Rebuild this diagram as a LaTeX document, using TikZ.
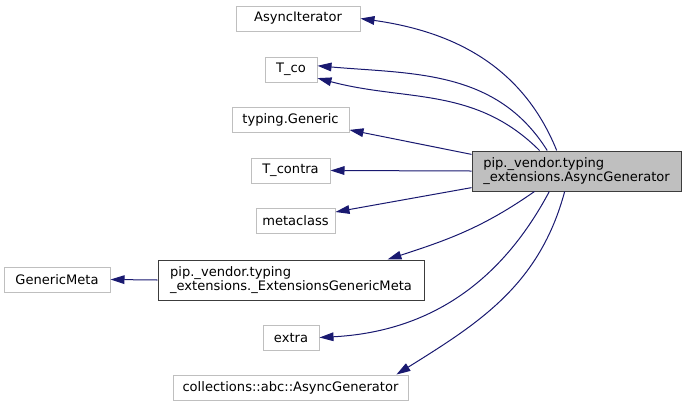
\documentclass[tikz,border=0pt]{standalone}
\usepackage{fontspec}
\setmainfont{DejaVu Sans}
\usetikzlibrary{arrows.meta}
\definecolor{midnight}{RGB}{25,25,112}
\definecolor{boxgrey}{RGB}{191,191,191}
\definecolor{boxdark}{RGB}{60,60,60}

\begin{document}
\begin{tikzpicture}[x=0.75pt,y=0.75pt,
  cls/.style={draw=boxgrey,line width=0.75pt,inner sep=0pt,minimum height=18.75pt,font=\fontsize{9.8}{10}\selectfont},
  twoline/.style={cls,align=left,minimum height=30pt},
  inh/.style={-{Triangle[length=10.5pt,width=6.5pt]},midnight,line width=0.75pt}]

\useasboundingbox (0,0) rectangle (685,-408);

\node[cls,minimum width=93pt] (asynciter) at (298,-18.5) {AsyncIterator};
\node[cls,minimum width=39pt] (tco) at (291,-69.5) {T\_co};
\node[cls,minimum width=87.75pt] (generic) at (290.5,-119.5) {typing.Generic};
\node[cls,minimum width=59.25pt] (tcontra) at (290.5,-170.5) {T\_contra};
\node[cls,minimum width=59.25pt] (metaclass) at (295.5,-220.5) {metaclass};
\node[twoline,draw=boxdark,minimum width=199.5pt] (extmeta) at (291,-280) {pip.\_vendor.typing\\\_extensions.\_ExtensionsGenericMeta};
\node[cls,minimum width=79.5pt] (genmeta) at (57,-279.5) {GenericMeta};
\node[cls,minimum width=42pt] (extra) at (291,-337.5) {extra};
\node[cls,minimum width=176.25pt] (abcgen) at (290.5,-387.5) {collections::abc::AsyncGenerator};

\node[twoline,draw=boxdark,fill=boxgrey,minimum width=156.75pt] (main) at (576.5,-171) {pip.\_vendor.typing\\\_extensions.AsyncGenerator};

% inheritance edges
\path (main.134) edge [inh, out=112, in=-8] (asynciter.east);
\path (main.145) edge [inh, out=122, in=-5] (tco.8);
\path (main.151) edge [inh, out=135, in=-15] (tco.-18);
\path (main.171) edge [inh] (generic.-10);
\path (main.west) edge [inh] (tcontra.east);
\path (main.189) edge [inh] (metaclass.12);
\path (main.206) edge [inh, out=-145, in=18] (extmeta.12);
\path (main.217) edge [inh, out=-118, in=3] (extra.east);
\path (main.240) edge [inh, out=-105, in=32] (abcgen.7);

\path (extmeta.west) edge [inh] (genmeta.east);

\end{tikzpicture}
\end{document}
